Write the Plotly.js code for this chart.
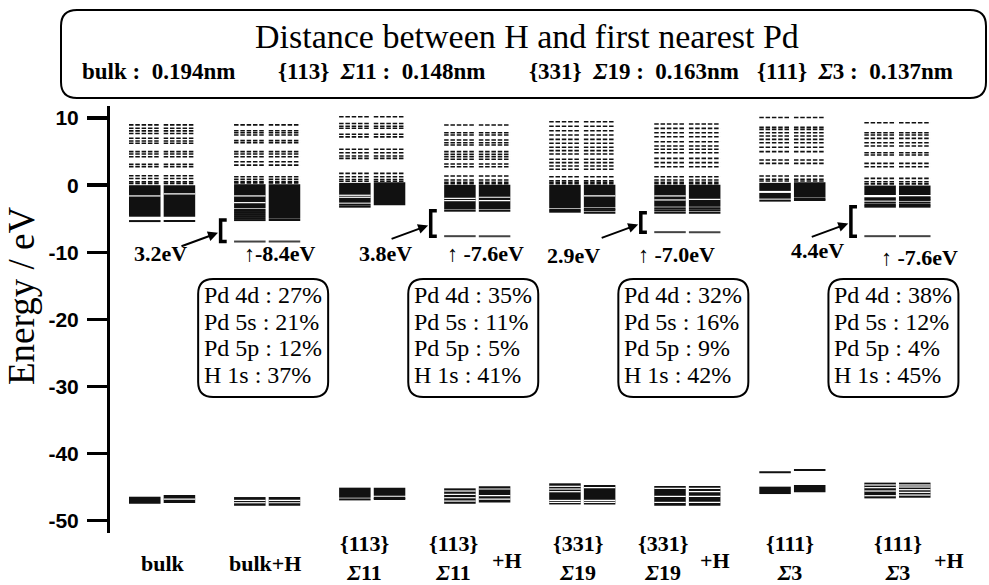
<!DOCTYPE html>
<html><head><meta charset="utf-8">
<script src="https://cdn.plot.ly/plotly-3.0.1.min.js"></script>
<style>html,body{margin:0;padding:0;background:#fff;}#chart{width:989px;height:585px;}</style>
</head><body><div id="chart"></div>
<script>
// ---------------- DATA ----------------
const categories = ['bulk', 'bulk+H', '{113} Σ11', '{113} Σ11 +H', '{331} Σ19', '{331} Σ19 +H', '{111} Σ3', '{111} Σ3 +H'];
// unoccupied levels (eV), both spins
const unoccLevels = [
  [9.0, 8.5, 8.1, 7.7, 7.0, 6.6, 6.25, 5.0, 4.65, 4.25, 3.1, 2.75, 1.4, 1.0, 0.5, 0.25],
  [9.0, 8.13, 7.83, 7.48, 6.64, 6.34, 5.0, 4.65, 4.25, 3.5, 3.0, 1.27, 0.88, 0.55, 0.35],
  [10.2, 9.2, 8.8, 8.5, 7.6, 7.2, 5.35, 4.85, 4.35, 4.0, 1.77, 1.27, 0.85, 0.6],
  [8.98, 7.83, 7.48, 6.74, 6.34, 6.0, 5.0, 4.6, 4.25, 3.86, 3.16, 2.76, 1.37, 0.78, 0.45, 0.22],
  [9.47, 8.8, 8.13, 7.48, 6.84, 6.25, 5.65, 5.15, 4.65, 3.86, 3.36, 2.86, 2.37, 1.27, 0.67, 0.45, 0.22],
  [9.12, 8.48, 7.83, 7.23, 6.49, 5.84, 5.35, 4.85, 4.0, 3.36, 2.76, 1.27, 0.78, 0.45, 0.22],
  [10.1, 8.63, 8.33, 7.83, 7.33, 6.84, 6.34, 5.65, 5.0, 3.76, 3.26, 1.37, 0.88, 0.62],
  [9.32, 7.83, 7.48, 6.99, 6.34, 5.84, 4.85, 4.5, 3.26, 2.76, 1.02, 0.52, 0.2]
];
// dense occupied bands [low, high] (eV)
const bandsUp = [
  [[-4.7, 0], [-47.5, -46.45]],
  [[-3.45, 0.15], [-47.8, -46.5]],
  [[-2.6, 0.35], [-46.6, -45.1]],
  [[-3.6, 0.05], [-47.5, -45.2]],
  [[-3.45, 0.05], [-47.6, -44.45]],
  [[-3.2, 0.05], [-47.8, -44.85]],
  [[-0.85, 0.35], [-2.0, -1.15], [-46.05, -44.95]],
  [[-1.46, -0.05], [-2.3, -1.8], [-46.7, -44.35]]
];
const bandsDown = [
  [[-4.7, 0], [-47.4, -46.2]],
  [[-5.0, 0.15], [-47.8, -46.5]],
  [[-3.0, 0.45], [-46.3, -45.1]],
  [[-3.6, 0.05], [-47.3, -44.9]],
  [[-3.3, 0.05], [-47.6, -44.7]],
  [[-3.2, 0.05], [-47.8, -44.85]],
  [[-1.8, 0.45], [-45.8, -44.7]],
  [[-1.46, -0.05], [-46.6, -44.35]]
];
// single occupied levels (eV)
const levelsUp = [
  [-5.35], [-3.7, -4.0, -4.3, -4.6, -4.9, -5.2], [-2.9, -3.2, -46.85], [-3.8],
  [-3.7, -3.95], [-3.45, -3.75, -4.1], [-2.3, -42.8], [-2.6, -2.95, -3.2]
];
const levelsDown = [
  [-5.35], [-5.2], [-46.6, -46.8], [-3.8],
  [-3.5, -3.75, -4.1], [-3.45, -3.75, -4.1], [-2.0, -2.2, -42.45], [-1.8, -2.0, -2.2, -2.6, -2.95, -3.2]
];
// small gaps inside the dense bands (eV)
const gapsUp = [
  [-1.6], [-1.6, -2.6, -47.0, -47.35], [-1.5, -1.8], [-1.96, -2.3, -45.6, -46.1, -46.6, -47.1],
  [-44.9, -45.3, -45.7, -47.0, -47.3], [-1.6, -2.2, -45.2, -46.4, -47.3], [], [-44.7, -45.1, -45.6, -46.3]
];
const gapsDown = [
  [-1.3, -46.8], [-47.0, -47.35], [], [-1.8, -2.3, -45.3, -46.3, -46.8],
  [-1.6, -45.1, -47.0, -47.3], [-2.1, -45.2, -45.7, -46.4, -47.3], [], [-44.7, -45.0, -45.4, -45.8, -46.2]
];
// H-induced level (eV) and gap to lowest occupied band (eV)
const hLevel = [null, -8.4, null, -7.6, null, -7.0, null, -7.6];
const gapEV = [3.2, 3.8, 2.9, 4.4];
// orbital composition (%)
const pd4d = [27, 35, 32, 38];
const pd5s = [21, 11, 16, 12];
const pd5p = [12, 5, 9, 4];
const h1s  = [37, 41, 42, 45];
// H - first nearest Pd distance
const distNames = ['bulk', '{113} Σ11', '{331} Σ19', '{111} Σ3'];
const distNm = ['0.194', '0.148', '0.163', '0.137'];
const yTicks = [10, 0, -10, -20, -30, -40, -50];

// ---------------- LAYOUT HELPERS ----------------
const W = 989, H = 585, ML = 110, MR = 9, MT = 106, MB = 52;
const PW = W - ML - MR, PH = H - MT - MB;
const X0 = -0.496, X1 = 7.786, Y0 = -51.86, Y1 = 11.81;
const pxX = v => (v - ML) / PW;
const pxY = v => (H - MB - v) / PH;
const colPx = i => ML + (i - X0) / (X1 - X0) * PW;
const SERIF = 'Liberation Serif, Times New Roman, serif';
const OFF = {up: -0.315, down: 0.015}, BW = 0.3;

function segs(perCol, off) {
  const xs = [], ys = [];
  perCol.forEach((arr, i) => {
    if (arr === null || arr === undefined) return;
    const list = Array.isArray(arr) ? arr : [arr];
    list.forEach(e => { xs.push(i + off, i + off + BW, null); ys.push(e, e, null); });
  });
  return {xs, ys};
}
function bars(perCol, off) {
  const x = [], base = [], y = [];
  perCol.forEach((arr, i) => arr.forEach(([lo, hi]) => { x.push(i); base.push(lo); y.push(hi - lo); }));
  return {type: 'bar', x, base, y, offset: off, width: BW, marker: {color: '#111', line: {width: 0}},
          hoverinfo: 'skip', showlegend: false};
}
function lineTrace(perCol, color, width, dash) {
  const a = segs(perCol, OFF.up), b = segs(perCol, OFF.down);
  return {type: 'scatter', mode: 'lines', x: a.xs.concat(b.xs), y: a.ys.concat(b.ys),
          line: {color, width, dash: dash || 'solid'}, hoverinfo: 'skip', showlegend: false, connectgaps: false};
}
function lineTraceSide(perCol, off, color, width) {
  const a = segs(perCol, off);
  return {type: 'scatter', mode: 'lines', x: a.xs, y: a.ys, line: {color, width},
          hoverinfo: 'skip', showlegend: false, connectgaps: false};
}

const traces = [
  bars(bandsUp, OFF.up),
  bars(bandsDown, OFF.down),
  lineTraceSide(levelsUp, OFF.up, '#111', 2),
  lineTraceSide(levelsDown, OFF.down, '#111', 2),
  lineTrace(unoccLevels, '#111', 1.6, '4.5px,1.8px'),
  lineTraceSide(gapsUp, OFF.up, '#fff', 1.2),
  lineTraceSide(gapsDown, OFF.down, '#fff', 1.2),
  lineTrace(hLevel, '#444', 2)
];

function rrect(x0, y0, x1, y1, r) {
  const X = pxX, Y = pxY;
  return `M${X(x0 + r)},${Y(y0)} L${X(x1 - r)},${Y(y0)} Q${X(x1)},${Y(y0)} ${X(x1)},${Y(y0 + r)} ` +
         `L${X(x1)},${Y(y1 - r)} Q${X(x1)},${Y(y1)} ${X(x1 - r)},${Y(y1)} L${X(x0 + r)},${Y(y1)} ` +
         `Q${X(x0)},${Y(y1)} ${X(x0)},${Y(y1 - r)} L${X(x0)},${Y(y0 + r)} Q${X(x0)},${Y(y0)} ${X(x0 + r)},${Y(y0)} Z`;
}

const shapes = [], annotations = [];
// top box
shapes.push({type: 'path', xref: 'paper', yref: 'paper', path: rrect(61, 10, 986, 98, 16), line: {color: '#000', width: 2}});
annotations.push({xref: 'paper', yref: 'paper', x: pxX(527), y: pxY(36), showarrow: false,
  text: 'Distance between H and first nearest Pd', font: {family: SERIF, size: 34, color: '#000'}, xanchor: 'center', yanchor: 'middle'});
const distLeft = [80, 276, 527, 755];
distNames.forEach((n, k) => {
  const t = n.replace(' Σ', '\u00a0 <i>Σ</i>') + ' :\u00a0 ' + distNm[k] + 'nm';
  annotations.push({xref: 'paper', yref: 'paper', x: pxX(distLeft[k]), y: pxY(72), showarrow: false, text: t,
    font: {family: SERIF, size: 23, color: '#000', weight: 'bold'}, xanchor: 'left', yanchor: 'middle'});
});
// y axis title
annotations.push({xref: 'paper', yref: 'paper', x: pxX(21), y: pxY(296), showarrow: false, text: 'Energy / eV',
  textangle: -90, font: {family: SERIF, size: 37, color: '#000'}, xanchor: 'center', yanchor: 'middle'});

// H columns: bracket, arrow, labels, composition box
const gapShift = [-2, 13, -9, 25], gapY = [253, 253, 255, 250];
const hShift = [13, 8, -11, 22], hY = [253, 253, 254, 257];
[1, 3, 5, 7].forEach((c, k) => {
  const top = hLevel[c] + gapEV[k], bot = hLevel[c];
  const xb = c - 0.443, xt = c - 0.385;
  shapes.push({type: 'path', xref: 'x', yref: 'y',
    path: `M${xt},${top} L${xb},${top} L${xb},${bot} L${xt},${bot}`, line: {color: '#000', width: 3.5}});
  annotations.push({xref: 'x', yref: 'y', x: xb - 0.025, y: (top + bot) / 2 - 0.3, ax: -38, ay: 14, text: '',
    showarrow: true, arrowhead: 2, arrowsize: 1, arrowwidth: 2, arrowcolor: '#000', standoff: 0});
  annotations.push({xref: 'x', yref: 'paper', x: c - 1, xshift: gapShift[k], y: pxY(gapY[k]), showarrow: false,
    text: gapEV[k].toFixed(1) + 'eV', font: {family: SERIF, size: 22, color: '#000', weight: 'bold'}, yanchor: 'middle'});
  annotations.push({xref: 'x', yref: 'paper', x: c, xshift: hShift[k], y: pxY(hY[k]), showarrow: false,
    text: '↑' + (k === 0 ? '' : ' ') + hLevel[c].toFixed(1) + 'eV', font: {family: SERIF, size: 22, color: '#000', weight: 'bold'}, yanchor: 'middle'});
  const cx = colPx(c) - 4, bx0 = cx - 65, bx1 = cx + 65;
  shapes.push({type: 'path', xref: 'paper', yref: 'paper', path: rrect(bx0, 279, bx1, 397, 15), line: {color: '#000', width: 2}});
  const rows = ['Pd 4d : ' + pd4d[k] + '%', 'Pd 5s : ' + pd5s[k] + '%', 'Pd 5p : ' + pd5p[k] + '%', 'H 1s : ' + h1s[k] + '%'];
  rows.forEach((t, r) => annotations.push({xref: 'paper', yref: 'paper', x: pxX(bx0 + 4), y: pxY(295 + r * 26.7),
    showarrow: false, text: t, xanchor: 'left', yanchor: 'middle', font: {family: SERIF, size: 24, color: '#000'}}));
});

// category labels
const labShift = [1, -2, -8, -24, -4, -24, -2, 1], plusShift = [0, 0, 0, 30, 0, 28, 0, 52];
categories.forEach((cat, i) => {
  const f = {family: SERIF, size: 22, color: '#000', weight: 'bold'};
  if (cat.indexOf('{') < 0) {
    annotations.push({xref: 'x', yref: 'paper', x: i, xshift: labShift[i], y: pxY(563), showarrow: false, text: cat, font: f, yanchor: 'middle'});
    return;
  }
  const parts = cat.split(' ');
  annotations.push({xref: 'x', yref: 'paper', x: i, xshift: labShift[i], y: pxY(558), showarrow: false,
    text: parts[0] + '<br>' + parts[1].replace('Σ', '<i>Σ</i>'), font: f, yanchor: 'middle', align: 'center'});
  if (parts[2]) annotations.push({xref: 'x', yref: 'paper', x: i, xshift: plusShift[i], y: pxY(560), showarrow: false, text: parts[2], font: f, yanchor: 'middle'});
});

const layout = {
  width: W, height: H, margin: {l: ML, r: MR, t: MT, b: MB, pad: 0},
  paper_bgcolor: '#fff', plot_bgcolor: '#fff', barmode: 'overlay', showlegend: false,
  xaxis: {type: 'linear', range: [X0, X1], visible: false, fixedrange: true},
  yaxis: {range: [Y0, Y1], tickvals: yTicks, ticktext: yTicks.map(String), ticks: 'outside', ticklen: 20, tickwidth: 3.5,
    tickcolor: '#000', showline: true, linewidth: 3, linecolor: '#000', showgrid: false, zeroline: false,
    ticklabelstandoff: 4,
    tickfont: {family: 'Liberation Sans, Arial, sans-serif', size: 21, color: '#000', weight: 'bold'},
    title: {text: ''}, fixedrange: true},
  shapes, annotations
};
Plotly.newPlot('chart', traces, layout, {displayModeBar: false, staticPlot: true});
</script></body></html>
